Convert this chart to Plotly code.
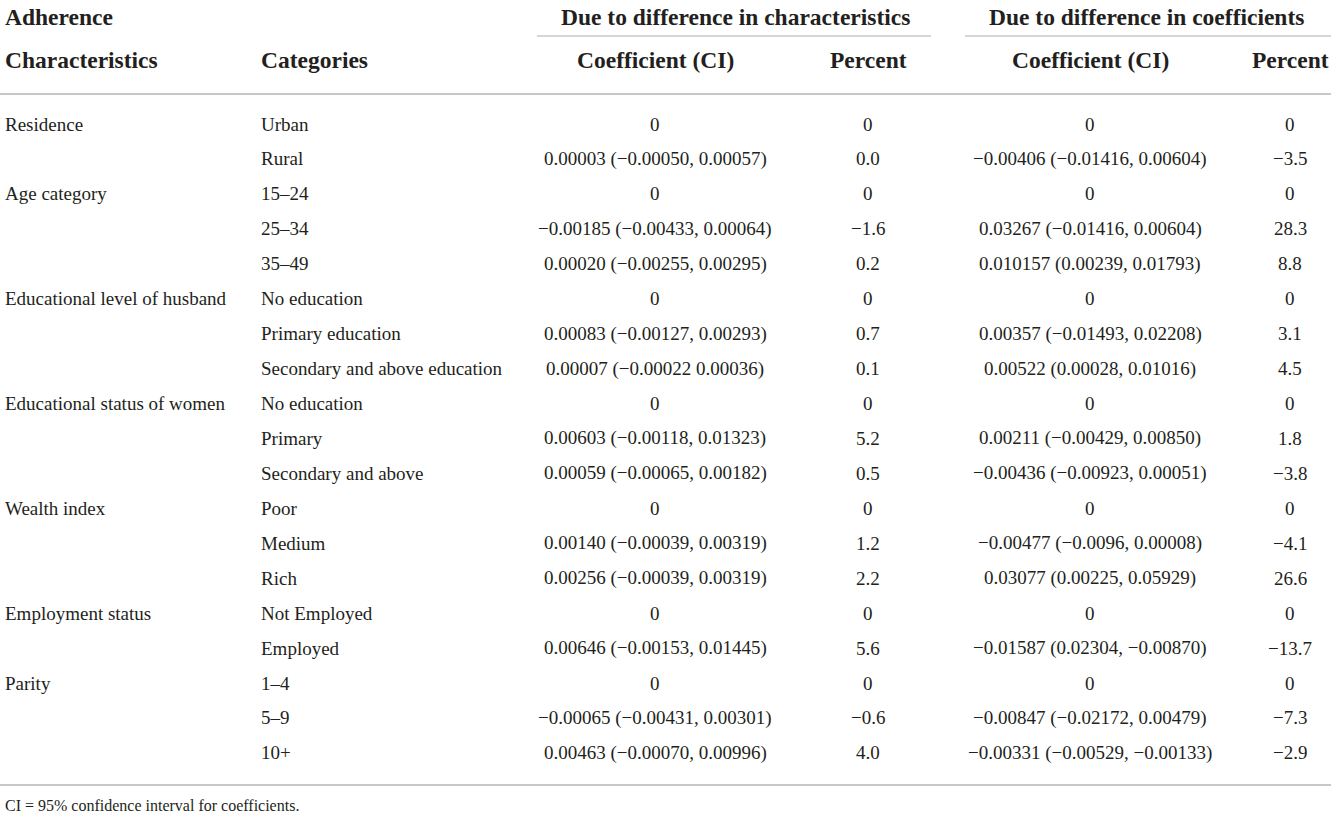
import plotly.graph_objects as go

# table contents, one entry per row
characteristics = ["Residence", "", "Age category", "", "",
                   "Educational level of husband", "", "",
                   "Educational status of women", "", "",
                   "Wealth index", "", "",
                   "Employment status", "",
                   "Parity", "", ""]
categories = ["Urban", "Rural", "15–24", "25–34", "35–49",
              "No education", "Primary education", "Secondary and above education",
              "No education", "Primary", "Secondary and above",
              "Poor", "Medium", "Rich",
              "Not Employed", "Employed",
              "1–4", "5–9", "10+"]
char_coef = ["0", "0.00003 (−0.00050, 0.00057)",
             "0", "−0.00185 (−0.00433, 0.00064)", "0.00020 (−0.00255, 0.00295)",
             "0", "0.00083 (−0.00127, 0.00293)", "0.00007 (−0.00022 0.00036)",
             "0", "0.00603 (−0.00118, 0.01323)", "0.00059 (−0.00065, 0.00182)",
             "0", "0.00140 (−0.00039, 0.00319)", "0.00256 (−0.00039, 0.00319)",
             "0", "0.00646 (−0.00153, 0.01445)",
             "0", "−0.00065 (−0.00431, 0.00301)", "0.00463 (−0.00070, 0.00996)"]
char_pct = ["0", "0.0", "0", "−1.6", "0.2", "0", "0.7", "0.1", "0", "5.2", "0.5",
            "0", "1.2", "2.2", "0", "5.6", "0", "−0.6", "4.0"]
coef_coef = ["0", "−0.00406 (−0.01416, 0.00604)",
             "0", "0.03267 (−0.01416, 0.00604)", "0.010157 (0.00239, 0.01793)",
             "0", "0.00357 (−0.01493, 0.02208)", "0.00522 (0.00028, 0.01016)",
             "0", "0.00211 (−0.00429, 0.00850)", "−0.00436 (−0.00923, 0.00051)",
             "0", "−0.00477 (−0.0096, 0.00008)", "0.03077 (0.00225, 0.05929)",
             "0", "−0.01587 (0.02304, −0.00870)",
             "0", "−0.00847 (−0.02172, 0.00479)", "−0.00331 (−0.00529, −0.00133)"]
coef_pct = ["0", "−3.5", "0", "28.3", "8.8", "0", "3.1", "4.5", "0", "1.8", "−3.8",
            "0", "−4.1", "26.6", "0", "−13.7", "0", "−7.3", "−2.9"]

group_headers = ["Due to difference in characteristics", "Due to difference in coefficients"]
sub_headers = ["Coefficient (CI)", "Percent", "Coefficient (CI)", "Percent"]
footnote = "CI = 95% confidence interval for coefficients."

W, H = 1331, 815
FONT = "Liberation Serif"
TXT = "#231f20"
RULE = "#c8c8c8"

first_row = 124
row_h = 34.94
col_x = [655, 868, 1090, 1290]   # centres of the four value columns

fig = go.Figure()
ann = []


def add(text, x, y, anchor="center", size=19, bold=False):
    ann.append(dict(x=x, y=y, xref="x", yref="y", text=f"<b>{text}</b>" if bold else text,
                    showarrow=False, xanchor=anchor, yanchor="middle",
                    font=dict(family=FONT, size=size, color=TXT)))


# header
HS = 23.5
add("Adherence", 3, 17, "left", HS, True)
add(group_headers[0], 735, 17, size=HS, bold=True)
add(group_headers[1], 1146, 17, size=HS, bold=True)
add("Characteristics", 3, 60, "left", HS, True)
add("Categories", 259, 60, "left", HS, True)
for x, t in zip(col_x, sub_headers):
    add(t, x, 60, size=HS, bold=True)

# body
for i in range(len(categories)):
    y = first_row + i * row_h
    if characteristics[i]:
        add(characteristics[i], 3, y, "left")
    add(categories[i], 259, y, "left")
    for x, col in zip(col_x, [char_coef, char_pct, coef_coef, coef_pct]):
        add(col[i], x, y)

add(footnote, 3, 805, "left", 16)

shapes = [
    dict(type="line", xref="x", yref="y", x0=537, x1=931, y0=36, y1=36, line=dict(color=RULE, width=1.5)),
    dict(type="line", xref="x", yref="y", x0=965, x1=W, y0=36, y1=36, line=dict(color=RULE, width=1.5)),
    dict(type="line", xref="x", yref="y", x0=0, x1=W, y0=94, y1=94, line=dict(color=RULE, width=2)),
    dict(type="line", xref="x", yref="y", x0=0, x1=W, y0=785, y1=785, line=dict(color=RULE, width=2)),
]

fig.update_layout(
    width=W, height=H,
    margin=dict(l=0, r=0, t=0, b=0),
    paper_bgcolor="white", plot_bgcolor="white",
    xaxis=dict(range=[0, W], visible=False, fixedrange=True),
    yaxis=dict(range=[H, 0], visible=False, fixedrange=True),
    annotations=ann, shapes=shapes, showlegend=False,
)

fig.write_html("out.html", config={"displayModeBar": False},
               post_script="document.body.style.margin='0';document.body.style.overflow='hidden';")
